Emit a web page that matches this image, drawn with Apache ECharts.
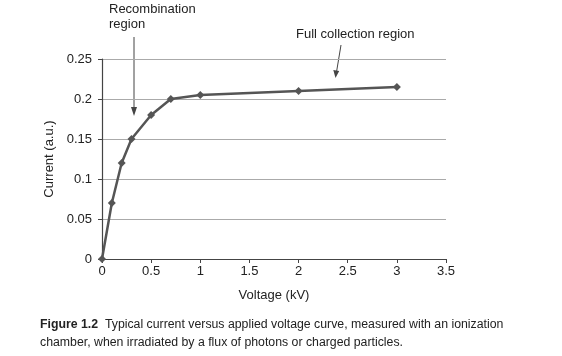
<!DOCTYPE html>
<html><head><meta charset="utf-8">
<script src="https://cdn.jsdelivr.net/npm/echarts@6/dist/echarts.min.js"></script>
<style>html,body{margin:0;padding:0;background:#fff}#c{width:562px;height:356px}</style>
</head><body><div id="c"></div>
<script>
var voltage = [0, 0.1, 0.2, 0.3, 0.5, 0.7, 1, 2, 3];
var current = [0, 0.07, 0.12, 0.15, 0.18, 0.2, 0.205, 0.21, 0.215];
var xTitle = 'Voltage (kV)';
var yTitle = 'Current (a.u.)';
var captionBold = 'Figure 1.2';
var captionLine1 = '  Typical current versus applied voltage curve, measured with an ionization';
var captionLine2 = 'chamber, when irradiated by a flux of photons or charged particles.';
var note1 = 'Recombination\nregion';
var note2 = 'Full collection region';

var FONT = '"Liberation Sans", Arial, sans-serif';
var chart = echarts.init(document.getElementById('c'));
var pts = voltage.map(function (v, i) { return [v, current[i]]; });
chart.setOption({
  animation: false,
  grid: { left: 102, right: 116, top: 59, bottom: 97 },
  xAxis: {
    type: 'value', min: 0, max: 3.5, interval: 0.5,
    name: xTitle, nameLocation: 'middle', nameGap: 30,
    nameTextStyle: { fontFamily: FONT, fontSize: 13, color: '#222' },
    axisLine: { lineStyle: { color: '#444', width: 1.2 } },
    axisTick: { show: true, length: 4, lineStyle: { color: '#444' } },
    axisLabel: { fontFamily: FONT, fontSize: 13, color: '#222', margin: 6,
      formatter: function (v) { return String(v); } },
    splitLine: { show: false }
  },
  yAxis: {
    type: 'value', min: 0, max: 0.25, interval: 0.05,
    name: yTitle, nameLocation: 'middle', nameGap: 42,
    nameTextStyle: { fontFamily: FONT, fontSize: 13, color: '#222' },
    axisLine: { show: true, lineStyle: { color: '#444', width: 1.2 } },
    axisTick: { show: true, length: 4, lineStyle: { color: '#444' } },
    axisLabel: { fontFamily: FONT, fontSize: 13, color: '#222', margin: 10,
      formatter: function (v) { return String(Math.round(v * 100) / 100); } },
    splitLine: { show: true, lineStyle: { color: '#aaa', width: 1 } }
  },
  series: [{
    type: 'line', data: pts,
    symbol: 'diamond', symbolSize: 8,
    lineStyle: { color: '#555', width: 2.5 },
    itemStyle: { color: '#555' }
  }],
  graphic: [
    { type: 'text', left: 109, top: 2, style: { text: note1, font: '13px ' + FONT, fill: '#222', lineHeight: 15 } },
    { type: 'line', shape: { x1: 134, y1: 37, x2: 134, y2: 110 }, style: { stroke: '#444', lineWidth: 1 } },
    { type: 'polygon', shape: { points: [[131, 107], [137, 107], [134, 116]] }, style: { fill: '#444' } },
    { type: 'text', left: 296, top: 28, style: { text: note2, font: '13px ' + FONT, fill: '#222' } },
    { type: 'line', shape: { x1: 341, y1: 45, x2: 336.5, y2: 72 }, style: { stroke: '#444', lineWidth: 1 } },
    { type: 'polygon', shape: { points: [[333.3, 70], [339.2, 71], [335.5, 78]] }, style: { fill: '#444' } },
    { type: 'text', left: 40, top: 319, style: {
      rich: { b: { font: 'bold 12.3px ' + FONT, fill: '#222' }, n: { font: '12.3px ' + FONT, fill: '#222' } },
      text: '{b|' + captionBold + '}{n|' + captionLine1 + '}' } },
    { type: 'text', left: 40, top: 337, style: { text: captionLine2, font: '12.3px ' + FONT, fill: '#222' } }
  ]
});
</script></body></html>
